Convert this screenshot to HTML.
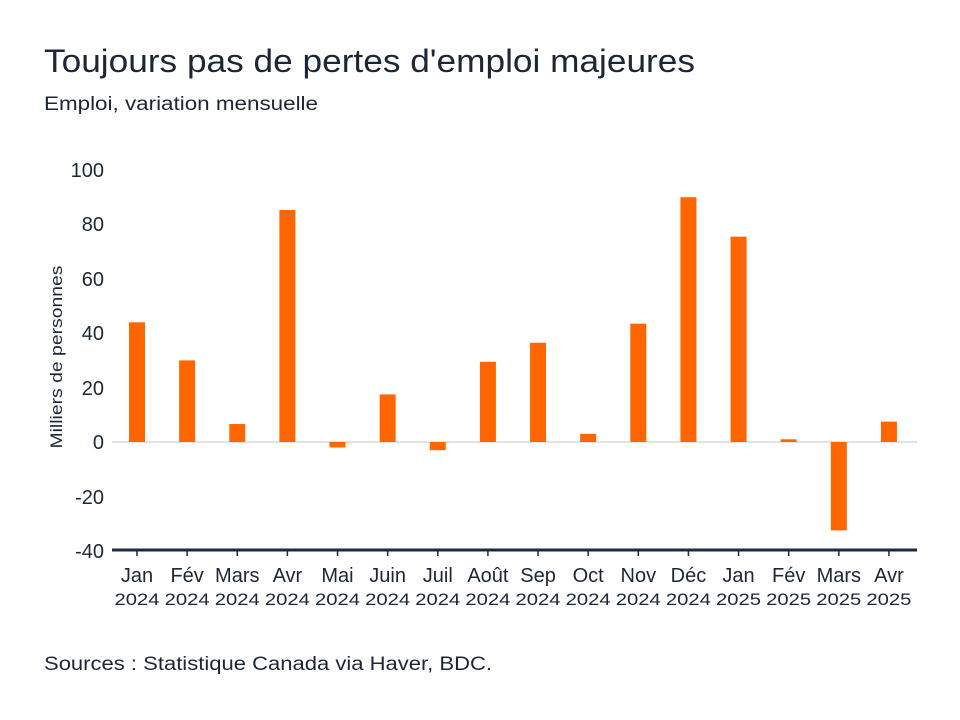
<!DOCTYPE html>
<html><head><meta charset="utf-8"><style>
body{margin:0;background:#fff}
svg{display:block;font-family:"Liberation Sans",sans-serif}
</style></head><body>
<svg width="960" height="720" viewBox="0 0 960 720" xmlns="http://www.w3.org/2000/svg">
<rect width="960" height="720" fill="#fff"/>
<text x="44" y="72" font-size="32" fill="#1c2636" textLength="651" lengthAdjust="spacingAndGlyphs">Toujours pas de pertes d'emploi majeures</text>
<text x="44" y="110" font-size="19" fill="#1c2636" textLength="274" lengthAdjust="spacingAndGlyphs">Emploi, variation mensuelle</text>
<text x="44" y="670" font-size="19" fill="#1c2636" textLength="448" lengthAdjust="spacingAndGlyphs">Sources : Statistique Canada via Haver, BDC.</text>
<text transform="translate(62,357) rotate(-90)" font-size="17" fill="#1c2636" text-anchor="middle" textLength="183" lengthAdjust="spacingAndGlyphs">Milliers de personnes</text>
<g font-size="20" fill="#1c2636" text-anchor="end">
<text x="104" y="177">100</text><text x="104" y="231">80</text><text x="104" y="286">60</text>
<text x="104" y="340">40</text><text x="104" y="395">20</text><text x="104" y="449">0</text>
<text x="104" y="504">-20</text><text x="104" y="558">-40</text>
</g>
<line x1="112" y1="442" x2="917" y2="442" stroke="#d0d0d0" stroke-width="1.2"/>
<g fill="#ff6600" id="bars"></g>
<line x1="112" y1="550" x2="917" y2="550" stroke="#1c2a40" stroke-width="3"/>
<g id="ticks" stroke="#1c2a40" stroke-width="1.5"></g>
<g id="labels" font-size="20" fill="#1c2636" text-anchor="middle"></g>
</svg>
<script>
var v=[44,30,6.6,85.3,-2,17.5,-3,29.5,36.5,3,43.5,90,75.5,1,-32.5,7.5];
var m=["Jan","Fév","Mars","Avr","Mai","Juin","Juil","Août","Sep","Oct","Nov","Déc","Jan","Fév","Mars","Avr"];
var ns="http://www.w3.org/2000/svg",b=document.getElementById("bars"),t=document.getElementById("ticks"),l=document.getElementById("labels");
for(var i=0;i<16;i++){var cx=137+i*50.13,h=v[i]*2.72;
var r=document.createElementNS(ns,"rect");r.setAttribute("x",cx-8);r.setAttribute("width",16);
r.setAttribute("y",h>0?442-h:442);r.setAttribute("height",Math.abs(h));b.appendChild(r);
var k=document.createElementNS(ns,"line");k.setAttribute("x1",cx);k.setAttribute("x2",cx);k.setAttribute("y1",550);k.setAttribute("y2",556);t.appendChild(k);
var a=document.createElementNS(ns,"text");a.setAttribute("x",cx);a.setAttribute("y",582);a.textContent=m[i];l.appendChild(a);
var y=document.createElementNS(ns,"text");y.setAttribute("x",cx);y.setAttribute("y",605);y.setAttribute("font-size","17");y.setAttribute("textLength","45");y.setAttribute("lengthAdjust","spacingAndGlyphs");y.textContent=i<12?"2024":"2025";l.appendChild(y);}
</script>
</body></html>
